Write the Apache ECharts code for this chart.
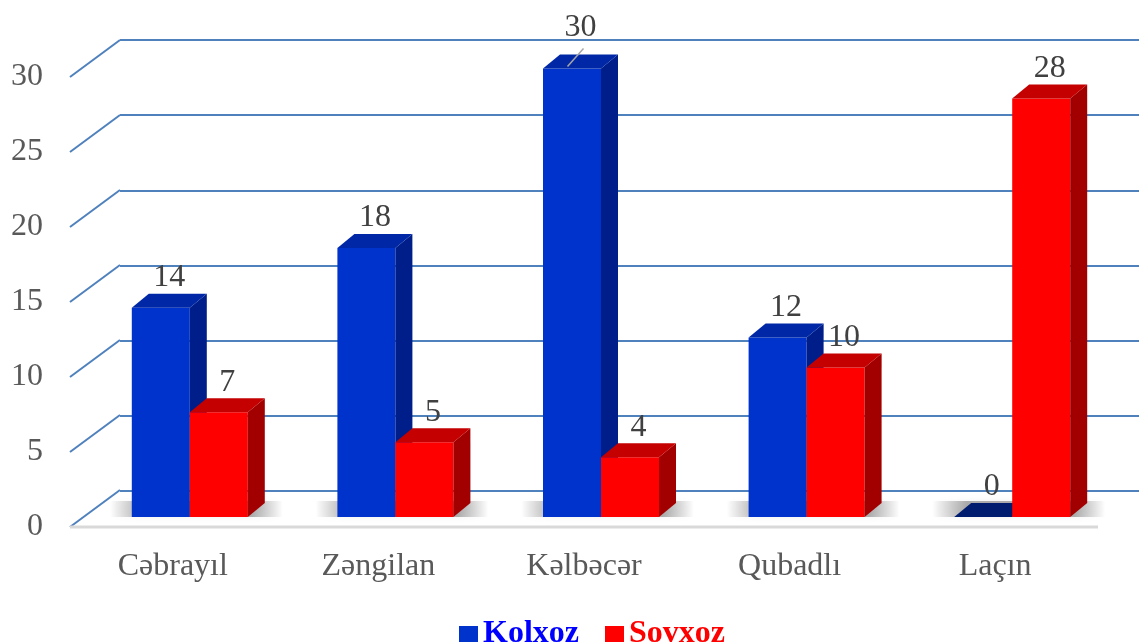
<!DOCTYPE html>
<html>
<head>
<meta charset="utf-8">
<script src="https://cdn.jsdelivr.net/npm/echarts@6/dist/echarts.min.js"></script>
<style>
html, body { margin: 0; padding: 0; background: #fff; }
#main { width: 1139px; height: 643px; }
</style>
</head>
<body>
<div id="main"></div>
<script>
var categories = ['Cəbrayıl', 'Zəngilan', 'Kəlbəcər', 'Qubadlı', 'Laçın'];
var kolxoz = [14, 18, 30, 12, 0];
var sovxoz = [7, 5, 4, 10, 28];
var yTicks = [0, 5, 10, 15, 20, 25, 30];
var seriesNames = ['Kolxoz', 'Sovxoz'];

var FONT = '"Liberation Serif", "Times New Roman", serif';
var DX = 17, DY = -14, BAR_W = 58;   // bar depth and width
var WALL_DX = 50, WALL_DY = -37;     // wall depth (gridline diagonals)
var yMax = yTicks[yTicks.length - 1];

var palette = {
  Kolxoz: { front: '#0033cc', side: '#001e8a', top: '#0028a6', legend: '#0000ff' },
  Sovxoz: { front: '#ff0000', side: '#a20000', top: '#c40000', legend: '#ff0000' }
};

var chart = echarts.init(document.getElementById('main'));

// one 3d bar: front face, side, top, value label
function barRenderer(name, slot) {
  var c = palette[name];
  return function (params, api) {
    var cat = api.value(0), v = api.value(1);
    var top = api.coord([cat, v]);
    var base = api.coord([cat, 0]);
    var w = BAR_W;
    var x = top[0] + (slot === 0 ? -w : 0);
    var y = top[1], yb = base[1];
    var kids = [
      { type: 'rect', shape: { x: x, y: y, width: w, height: yb - y }, style: { fill: c.front } },
      { type: 'polygon', shape: { points: [[x + w, y], [x + w + DX, y + DY], [x + w + DX, yb + DY], [x + w, yb]] }, style: { fill: c.side } },
      { type: 'polygon', shape: { points: [[x, y], [x + DX, y + DY], [x + w + DX, y + DY], [x + w, y]] }, style: { fill: v === 0 ? '#001c6e' : c.top } }
    ];
    var lx = x + w / 2 + DX / 2;
    var ly = y + DY - 16;
    if (v >= yMax) {
      // label pushed above the top gridline, with a leader line
      ly -= 11;
      kids.push({ type: 'line', shape: { x1: lx - 13, y1: y - 2, x2: lx + 3, y2: y - 20 }, style: { stroke: '#a6a6a6', lineWidth: 1.5 } });
    }
    kids.push({
      type: 'text',
      style: { text: String(v), x: lx, y: ly, align: 'center', verticalAlign: 'middle', font: '32px ' + FONT, fill: '#404040' }
    });
    return { type: 'group', children: kids };
  };
}

// soft floor shadow under each pair of bars
function shadowRenderer(params, api) {
  var cat = api.value(0);
  var base = api.coord([cat, 0]);
  var x0 = base[0] - BAR_W - 22, x1 = base[0] + BAR_W + DX + 18, yb = base[1];
  return {
    type: 'rect',
    shape: { x: x0, y: yb + DY - 2, width: x1 - x0, height: -DY + 2 },
    style: {
      fill: {
        type: 'linear', x: 0, y: 0, x2: 1, y2: 0,
        colorStops: [
          { offset: 0, color: 'rgba(0,0,0,0)' },
          { offset: 0.2, color: 'rgba(0,0,0,0.3)' },
          { offset: 0.82, color: 'rgba(0,0,0,0.3)' },
          { offset: 1, color: 'rgba(0,0,0,0)' }
        ]
      },
      shadowBlur: 6, shadowColor: 'rgba(0,0,0,0.2)'
    }
  };
}

// diagonal side-wall lines and the front floor edge
function wallRenderer(params, api) {
  var v = api.value(1);
  var cs = params.coordSys;
  var p = api.coord([0, v]);
  var kids = [
    { type: 'line', shape: { x1: cs.x, y1: p[1], x2: cs.x + WALL_DX, y2: p[1] + WALL_DY }, style: { stroke: '#4f81bd', lineWidth: 2 } }
  ];
  if (v === 0) {
    kids.push({ type: 'line', shape: { x1: cs.x, y1: p[1], x2: cs.x + cs.width, y2: p[1] }, style: { stroke: '#d9d9d9', lineWidth: 3 } });
  }
  return { type: 'group', children: kids };
}

var option = {
  backgroundColor: '#fff',
  animation: false,
  grid: [
    { left: 70, right: 41, top: 77, bottom: 116 },   // front plane: axis labels
    { left: 120, right: 0, top: 40, bottom: 152 },   // back wall gridlines
    { left: 87, right: 24, top: 68.5, bottom: 126 }  // bars
  ],
  xAxis: [
    {
      gridIndex: 0, type: 'category', data: categories,
      axisLine: { show: false }, axisTick: { show: false },
      axisLabel: { fontFamily: FONT, fontSize: 32, color: '#595959', margin: 24 }
    },
    { gridIndex: 1, type: 'value', min: 0, max: 1, show: false },
    { gridIndex: 2, type: 'category', data: categories, show: false }
  ],
  yAxis: [
    {
      gridIndex: 0, type: 'value', min: 0, max: yMax, interval: 5,
      axisLine: { show: false }, axisTick: { show: false }, splitLine: { show: false },
      axisLabel: { fontFamily: FONT, fontSize: 32, color: '#595959', margin: 27 }
    },
    {
      gridIndex: 1, type: 'value', min: 0, max: yMax, interval: 5,
      axisLine: { show: false }, axisTick: { show: false }, axisLabel: { show: false },
      splitLine: { show: true, lineStyle: { color: '#4f81bd', width: 2 } }
    },
    { gridIndex: 2, type: 'value', min: 0, max: yMax, show: false }
  ],
  legend: {
    data: [
      { name: seriesNames[0], textStyle: { color: palette.Kolxoz.legend } },
      { name: seriesNames[1], textStyle: { color: palette.Sovxoz.legend } }
    ],
    left: 454, top: 613,
    icon: 'rect', itemWidth: 19, itemHeight: 16, itemGap: 26,
    textStyle: { fontFamily: FONT, fontSize: 32, fontWeight: 'bold' }
  },
  series: [
    {
      type: 'custom', name: 'wall', xAxisIndex: 0, yAxisIndex: 0, z: 1, silent: true,
      data: yTicks.map(function (t) { return [0, t]; }),
      renderItem: wallRenderer
    },
    {
      type: 'custom', name: 'shadow', xAxisIndex: 2, yAxisIndex: 2, z: 2, silent: true,
      data: categories.map(function (c, i) { return [i, 0]; }),
      renderItem: shadowRenderer
    },
    {
      type: 'custom', name: seriesNames[0], xAxisIndex: 2, yAxisIndex: 2, z: 3,
      itemStyle: { color: palette.Kolxoz.front },
      data: kolxoz.map(function (v, i) { return [i, v]; }),
      renderItem: barRenderer(seriesNames[0], 0)
    },
    {
      type: 'custom', name: seriesNames[1], xAxisIndex: 2, yAxisIndex: 2, z: 4,
      itemStyle: { color: palette.Sovxoz.front },
      data: sovxoz.map(function (v, i) { return [i, v]; }),
      renderItem: barRenderer(seriesNames[1], 1)
    }
  ]
};

chart.setOption(option);
</script>
</body>
</html>
